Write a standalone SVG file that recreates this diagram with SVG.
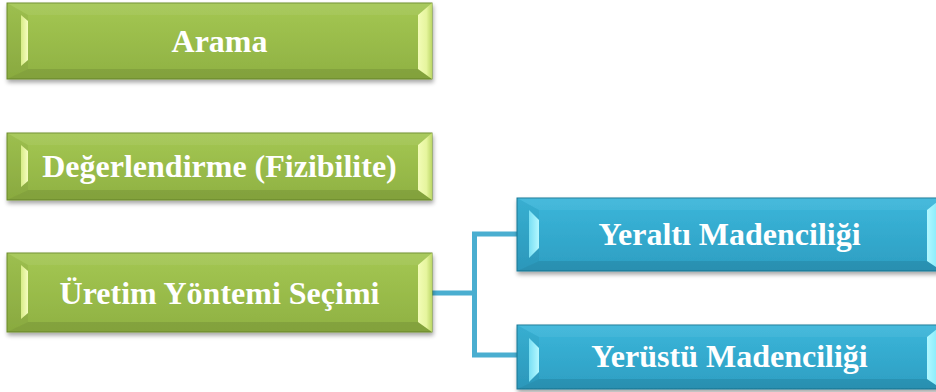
<svg xmlns="http://www.w3.org/2000/svg" width="936" height="392" viewBox="0 0 936 392">
<defs>
<filter id="sh" x="-5%" y="-20%" width="110%" height="150%">
<feDropShadow dx="1" dy="3" stdDeviation="2" flood-color="#000" flood-opacity="0.35"/>
</filter>
<linearGradient id="gBody" x1="0" y1="0" x2="0" y2="1">
<stop offset="0" stop-color="#a4c753"/>
<stop offset="1" stop-color="#8fb142"/>
</linearGradient>
<linearGradient id="bBody" x1="0" y1="0" x2="0" y2="1">
<stop offset="0" stop-color="#3bb6da"/>
<stop offset="1" stop-color="#2d9ec2"/>
</linearGradient>
<linearGradient id="gLeft" x1="0" y1="0" x2="1" y2="0">
<stop offset="0" stop-color="#d8ec86"/>
<stop offset="1" stop-color="#f6fdc0"/>
</linearGradient>
<linearGradient id="bLeft" x1="0" y1="0" x2="1" y2="0">
<stop offset="0" stop-color="#78dff4"/>
<stop offset="1" stop-color="#b4f8ff"/>
</linearGradient>
<linearGradient id="gRight" x1="0" y1="0" x2="1" y2="0">
<stop offset="0" stop-color="#f2fcb6"/>
<stop offset="0.6" stop-color="#e6f59e"/>
<stop offset="1" stop-color="#bcd866"/>
</linearGradient>
<linearGradient id="bRight" x1="0" y1="0" x2="1" y2="0">
<stop offset="0" stop-color="#b2f8ff"/>
<stop offset="0.6" stop-color="#8eeefc"/>
<stop offset="1" stop-color="#5cd0ea"/>
</linearGradient>
<style>
.gb{fill:url(#gBody);stroke:#6f8f2c;stroke-width:1;filter:url(#sh)}
.bb{fill:url(#bBody);stroke:#1d7a98;stroke-width:1;filter:url(#sh)}
.top{fill:#ffffff;fill-opacity:0.06}
.bot{fill:#000000;fill-opacity:0.09}
.side{fill:#000000;fill-opacity:0.04}
.gl{fill:url(#gLeft)}
.bl{fill:url(#bLeft)}
.gr{fill:url(#gRight)}
.br{fill:url(#bRight)}
.t{font-family:"Liberation Serif","Times New Roman",serif;font-weight:bold;font-size:32px;fill:#ffffff;text-anchor:middle}
.c{fill:none;stroke:#4aaed0;stroke-width:5}
</style>
</defs>
<rect width="936" height="392" fill="#ffffff"/>
<g id="connectors">
<path class="c" d="M432 293 H474.5 M474.5 231.5 V357.5 M472 234 H517 M472 355 H517"/>
</g>
<g id="n1">
<rect class="gb" x="7" y="3" width="425" height="76"/>
<polygon class="top" points="7,3 432,3 418,15 28,15"/>
<polygon class="bot" points="7,79 28,69 418,69 432,79"/>
<polygon class="side" points="7,3 28,15 28,69 7,79"/>
<polygon class="gl" points="21,15 28,21 28,60 21,66"/>
<polygon class="gr" points="418,15 432,3 432,79 418,69"/>
<text class="t" x="219.5" y="52">Arama</text>
</g>
<g id="n2">
<rect class="gb" x="7" y="133" width="425" height="67"/>
<polygon class="top" points="7,133 432,133 418,145 28,145"/>
<polygon class="bot" points="7,200 28,190 418,190 432,200"/>
<polygon class="side" points="7,133 28,145 28,190 7,200"/>
<polygon class="gl" points="21,145 28,151 28,181 21,187"/>
<polygon class="gr" points="418,145 432,133 432,200 418,190"/>
<text class="t" x="219.5" y="177">Değerlendirme (Fizibilite)</text>
</g>
<g id="n3">
<rect class="gb" x="7" y="253" width="425" height="79"/>
<polygon class="top" points="7,253 432,253 418,265 28,265"/>
<polygon class="bot" points="7,332 28,322 418,322 432,332"/>
<polygon class="side" points="7,253 28,265 28,322 7,332"/>
<polygon class="gl" points="21,265 28,271 28,313 21,319"/>
<polygon class="gr" points="418,265 432,253 432,332 418,322"/>
<text class="t" x="219.5" y="303.5">Üretim Yöntemi Seçimi</text>
</g>
<g id="n4">
<rect class="bb" x="517" y="198" width="425" height="73"/>
<polygon class="top" points="517,198 942,198 927,210 539,210"/>
<polygon class="bot" points="517,271 539,261 927,261 942,271"/>
<polygon class="side" points="517,198 539,210 539,261 517,271"/>
<polygon class="bl" points="529,210 539,220 539,248 529,258"/>
<polygon class="br" points="927,210 942,198 942,271 927,261"/>
<text class="t" x="729.5" y="245">Yeraltı Madenciliği</text>
</g>
<g id="n5">
<rect class="bb" x="517" y="325" width="425" height="64"/>
<polygon class="top" points="517,325 942,325 927,337 539,337"/>
<polygon class="bot" points="517,389 539,379 927,379 942,389"/>
<polygon class="side" points="517,325 539,337 539,379 517,389"/>
<polygon class="bl" points="529,338 539,348 539,372 529,382"/>
<polygon class="br" points="927,337 942,325 942,389 927,379"/>
<text class="t" x="729.5" y="367">Yerüstü Madenciliği</text>
</g>
</svg>
